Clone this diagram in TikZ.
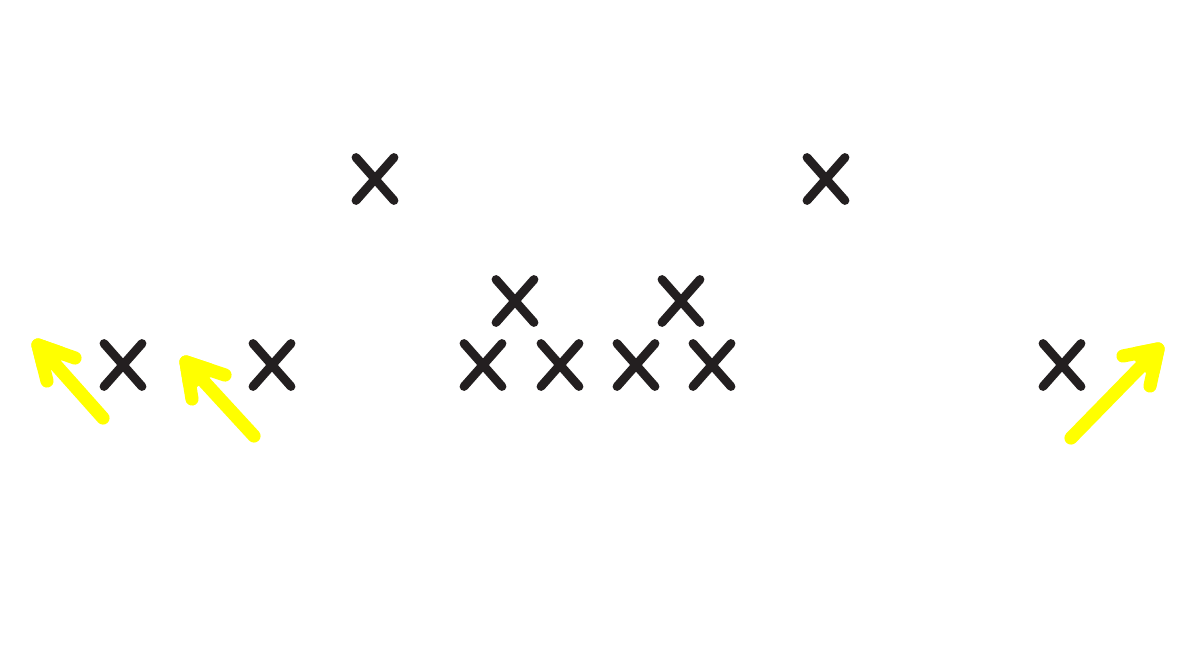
\documentclass[tikz,border=0pt]{standalone}
\usetikzlibrary{calc}
\begin{document}
\begin{tikzpicture}[x=0.02cm,y=-0.02cm,
  xbox/.style={inner sep=0pt, outer sep=0pt, minimum width=0.76cm, minimum height=0.86cm},
  ink/.style={draw=inkc, line width=5pt, line cap=round},
  hl/.style={draw=hlc, line width=7.5pt, line cap=round, line join=round},
  hlfill/.style={fill=hlc, draw=hlc, line width=7.5pt, line join=round}]
\definecolor{inkc}{HTML}{231F20}
\definecolor{hlc}{HTML}{FFFF00}
\useasboundingbox[fill=white] (0,0) rectangle (1200,667);
% X marks
\foreach \n/\px/\py in {x1/375/179, x2/826/179, x3/515/301, x4/681/301,
  x5/123/365, x6/272/365, x7/483/365, x8/560/365, x9/636/365, x10/712/365, x11/1062/365}{
  \node[xbox] (\n) at (\px,\py) {};
  \draw[ink] (\n.north west) -- (\n.south east);
  \draw[ink] (\n.north east) -- (\n.south west);
}
% yellow arrows
\coordinate (a1t) at (103,418); \coordinate (a1h) at (38,345);
\coordinate (a1r) at (75,358);  \coordinate (a1d) at (47,381);
\draw[hl] (a1t) -- (a1h);
\draw[hl] (a1r) -- (a1h) -- (a1d);
\fill[hlfill] (a1h) -- ($(a1h)!0.6!(a1r)$) -- ($(a1h)!0.6!(a1d)$) -- cycle;
\coordinate (a2t) at (254,436); \coordinate (a2h) at (186,362);
\coordinate (a2r) at (225,375); \coordinate (a2d) at (192,399);
\draw[hl] (a2t) -- (a2h);
\draw[hl] (a2r) -- (a2h) -- (a2d);
\fill[hlfill] (a2h) -- ($(a2h)!0.6!(a2r)$) -- ($(a2h)!0.6!(a2d)$) -- cycle;
\coordinate (a3t) at (1071,438); \coordinate (a3h) at (1158,349);
\coordinate (a3l) at (1123,356); \coordinate (a3d) at (1150,386);
\draw[hl] (a3t) -- (a3h);
\draw[hl] (a3l) -- (a3h) -- (a3d);
\fill[hlfill] (a3h) -- ($(a3h)!0.6!(a3l)$) -- ($(a3h)!0.6!(a3d)$) -- cycle;
\end{tikzpicture}
\end{document}
